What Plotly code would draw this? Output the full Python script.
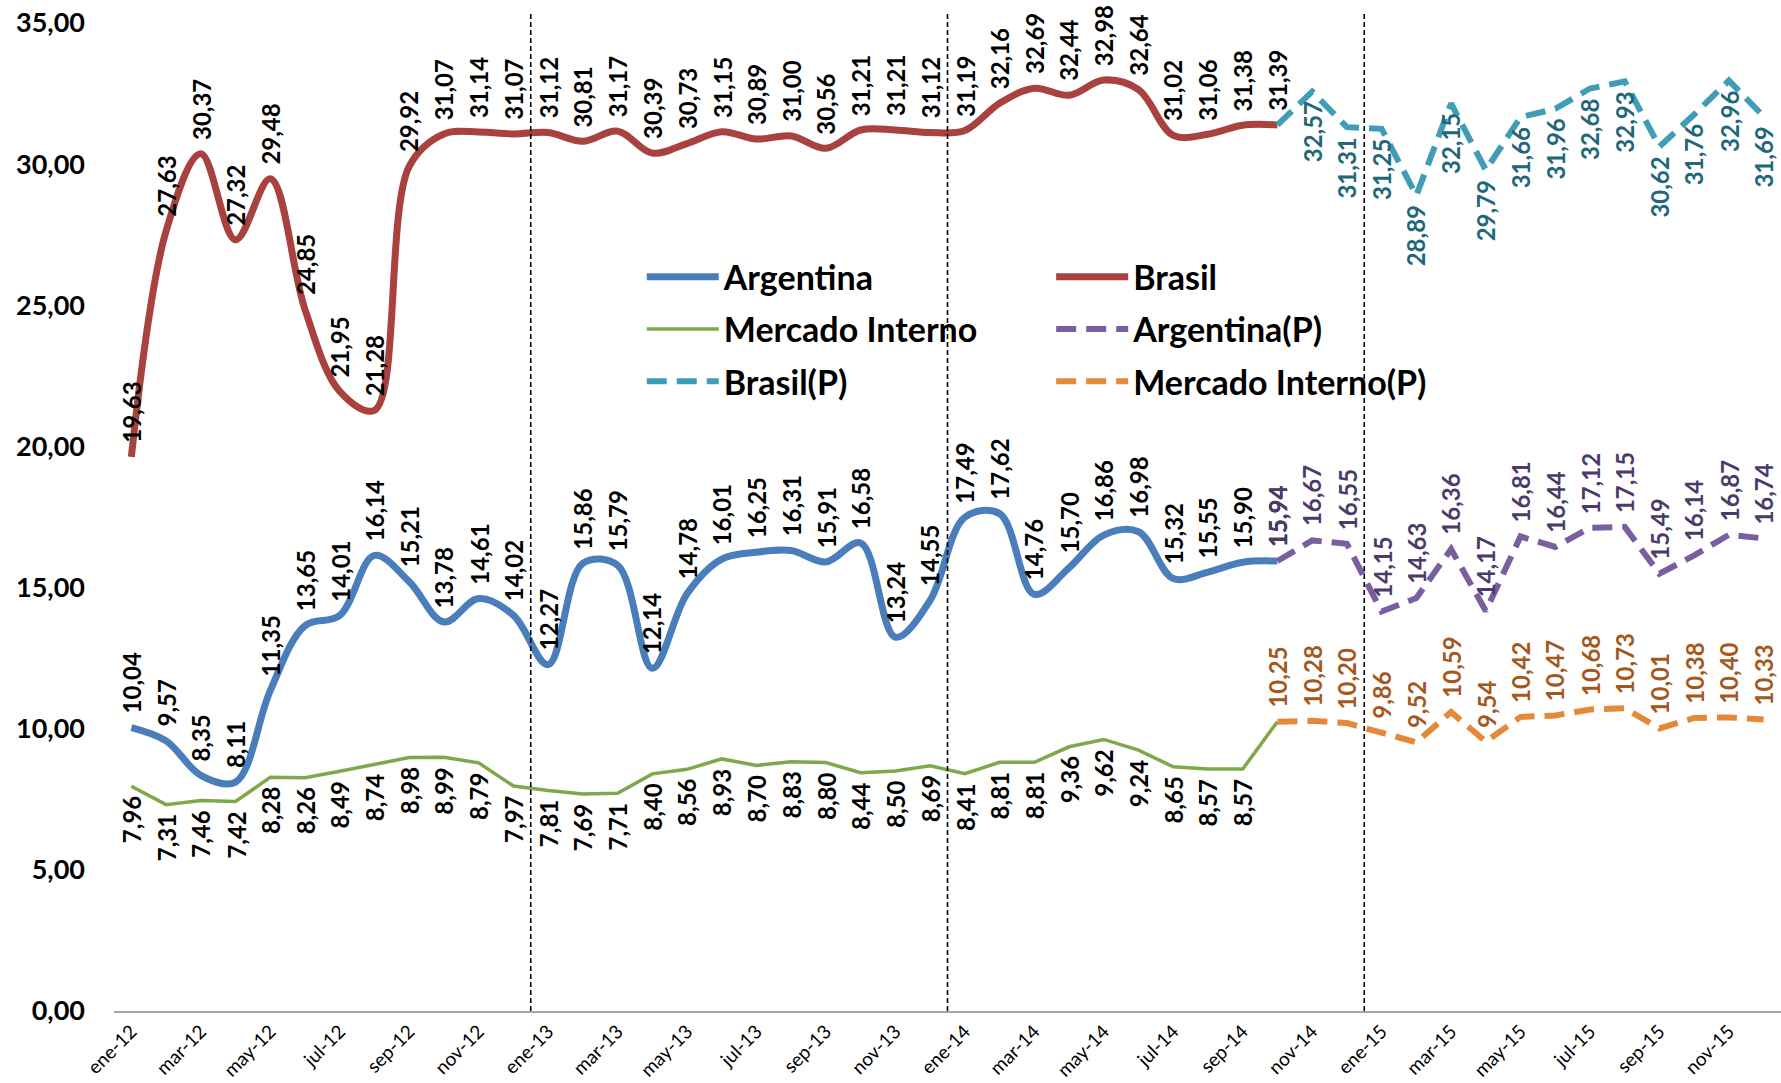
import plotly.graph_objects as go

# ---------------- data ----------------
categories = ["ene-12", "feb-12", "mar-12", "abr-12", "may-12", "jun-12", "jul-12", "ago-12", "sep-12", "oct-12", "nov-12", "dic-12",
              "ene-13", "feb-13", "mar-13", "abr-13", "may-13", "jun-13", "jul-13", "ago-13", "sep-13", "oct-13", "nov-13", "dic-13",
              "ene-14", "feb-14", "mar-14", "abr-14", "may-14", "jun-14", "jul-14", "ago-14", "sep-14", "oct-14", "nov-14", "dic-14",
              "ene-15", "feb-15", "mar-15", "abr-15", "may-15", "jun-15", "jul-15", "ago-15", "sep-15", "oct-15", "nov-15", "dic-15"]

argentina = [10.04, 9.57, 8.35, 8.11, 11.35, 13.65, 14.01, 16.14, 15.21, 13.78, 14.61, 14.02,
             12.27, 15.86, 15.79, 12.14, 14.78, 16.01, 16.25, 16.31, 15.91, 16.58, 13.24, 14.55,
             17.49, 17.62, 14.76, 15.70, 16.86, 16.98, 15.32, 15.55, 15.90, 15.94]
brasil = [19.63, 27.63, 30.37, 27.32, 29.48, 24.85, 21.95, 21.28, 29.92, 31.07, 31.14, 31.07,
          31.12, 30.81, 31.17, 30.39, 30.73, 31.15, 30.89, 31.00, 30.56, 31.21, 31.21, 31.12,
          31.19, 32.16, 32.69, 32.44, 32.98, 32.64, 31.02, 31.06, 31.38, 31.39]
mercado = [7.96, 7.31, 7.46, 7.42, 8.28, 8.26, 8.49, 8.74, 8.98, 8.99, 8.79, 7.97,
           7.81, 7.69, 7.71, 8.40, 8.56, 8.93, 8.70, 8.83, 8.80, 8.44, 8.50, 8.69,
           8.41, 8.81, 8.81, 9.36, 9.62, 9.24, 8.65, 8.57, 8.57, 10.25]

# projections start at oct-14
proj_categories = categories[33:]
argentina_p = [15.94, 16.67, 16.55, 14.15, 14.63, 16.36, 14.17, 16.81, 16.44, 17.12, 17.15, 15.49, 16.14, 16.87, 16.74]
brasil_p = [31.39, 32.57, 31.31, 31.25, 28.89, 32.15, 29.79, 31.66, 31.96, 32.68, 32.93, 30.62, 31.76, 32.96, 31.69]
mercado_p = [10.25, 10.28, 10.20, 9.86, 9.52, 10.59, 9.54, 10.42, 10.47, 10.68, 10.73, 10.01, 10.38, 10.40, 10.33]

y_tickvals = [0, 5, 10, 15, 20, 25, 30, 35]
y_ticktext = ["0,00", "5,00", "10,00", "15,00", "20,00", "25,00", "30,00", "35,00"]
x_tickvals = categories[::2]
year_boundaries = [11.5, 23.5, 35.5]

FONT = "Lato, 'Open Sans', sans-serif"


def fmt(v):
    return f"{v:.2f}".replace(".", ",")


fig = go.Figure()

# series: (name, x, y, color, width, dash, shape, legend, label position, label color, labelled slice)
series = [
    ("Argentina", categories, argentina, "#4A7EBB", 7, "solid", "spline", "legend", "above", "#000000", slice(0, 34)),
    ("Brasil", categories, brasil, "#A8423F", 7, "solid", "spline", "legend2", "above", "#000000", slice(0, 34)),
    ("Mercado Interno", categories, mercado, "#7EA849", 3.5, "solid", "linear", "legend", "below", "#000000", slice(0, 33)),
    ("Argentina(P)", proj_categories, argentina_p, "#7A5FA0", 6, "20px,10px", "linear", "legend2", "above", "#4B3B6B", slice(0, 15)),
    ("Brasil(P)", proj_categories, brasil_p, "#3F9DB6", 6, "20px,10px", "linear", "legend", "below", "#21677A", slice(1, 15)),
    ("Mercado Interno(P)", proj_categories, mercado_p, "#E4883A", 6, "20px,10px", "linear", "legend2", "above", "#A5581C", slice(0, 15)),
]

annotations = []
for name, xs, ys, color, width, dash, shape, leg, pos, lcolor, sl in series:
    fig.add_trace(go.Scatter(
        x=xs, y=ys, mode="lines", name=name,
        line=dict(color=color, width=width, dash=dash, shape=shape, smoothing=1.0),
        legend=leg, legendgroup=name, hoverinfo="skip",
    ))
    for xv, yv in zip(xs[sl], ys[sl]):
        annotations.append(dict(
            x=xv, y=yv, xref="x", yref="y", text=fmt(yv), showarrow=False,
            textangle=-90,
            yanchor="bottom" if pos == "above" else "top",
            yshift=12 if pos == "above" else -8,
            font=dict(family=FONT, size=24, color=lcolor, weight="bold"),
        ))

shapes = []
for b in year_boundaries:
    shapes.append(dict(type="line", xref="x", yref="paper", x0=b, x1=b, y0=0, y1=1.009,
                       line=dict(color="#000000", width=1.6, dash="5px,3px"), layer="above"))

legend_common = dict(yanchor="top", xanchor="left", bgcolor="rgba(0,0,0,0)",
                     font=dict(family=FONT, size=34, color="#000000", weight="bold"),
                     tracegroupgap=5, itemwidth=72, traceorder="grouped")

fig.update_layout(
    width=1781, height=1083,
    margin=dict(l=114, r=0, t=23, b=72, autoexpand=False),
    paper_bgcolor="white", plot_bgcolor="white",
    font=dict(family=FONT, color="#000000"),
    showlegend=True,
    legend=dict(x=0.3166, y=0.772, **legend_common),
    legend2=dict(x=0.5622, y=0.772, **legend_common),
    annotations=annotations,
    shapes=shapes,
    xaxis=dict(type="category", categoryorder="array", categoryarray=categories,
               range=[-0.5, 47.5], tickmode="array", tickvals=x_tickvals, ticktext=x_tickvals,
               tickangle=-45, tickfont=dict(family=FONT, size=19, color="#000000"),
               showgrid=False, zeroline=False, showline=True, linecolor="#A6A6A6", linewidth=2,
               ticks="", automargin=False),
    yaxis=dict(range=[0, 35], tickmode="array", tickvals=y_tickvals, ticktext=y_ticktext,
               tickfont=dict(family=FONT, size=27, color="#000000", weight="bold"),
               showgrid=False, zeroline=False, showline=False, ticks="",
               ticklabelstandoff=28, automargin=False),
)

fig.write_html("out.html", config={"displayModeBar": False},
               post_script="document.body.style.margin='0';document.body.style.overflow='hidden';")
